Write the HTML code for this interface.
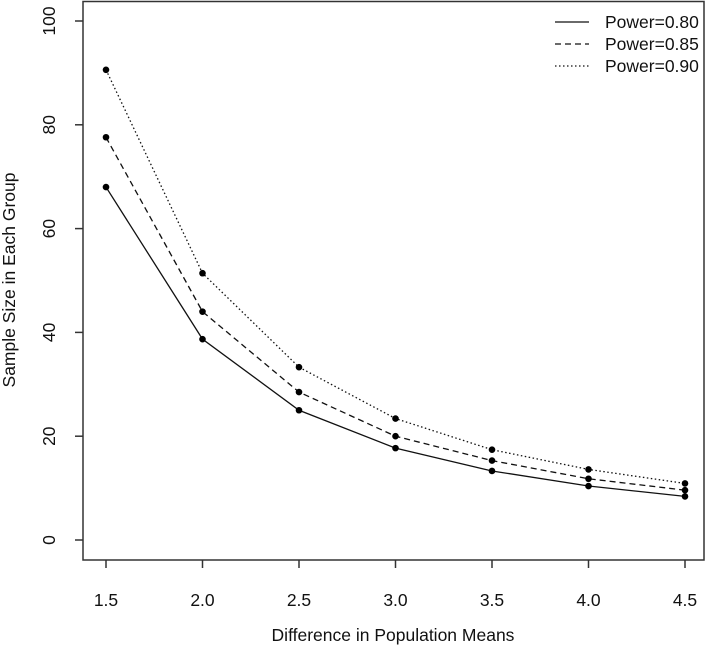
<!DOCTYPE html>
<html><head><meta charset="utf-8"><style>
html,body{margin:0;padding:0;background:#fff;}
svg{display:block;font-family:"Liberation Sans",sans-serif;}
</style></head><body>
<svg id="chart" width="709" height="648"></svg>
<script>
const xCats=[1.5,2.0,2.5,3.0,3.5,4.0,4.5];
const xTickLabels=["1.5","2.0","2.5","3.0","3.5","4.0","4.5"];
const yTicks=[0,20,40,60,80,100];
const p80=[68.0,38.7,25.0,17.7,13.3,10.4,8.4];
const p85=[77.6,44.0,28.5,20.0,15.3,11.8,9.6];
const p90=[90.6,51.4,33.3,23.4,17.4,13.6,10.9];
const seriesNames=["Power=0.80","Power=0.85","Power=0.90"];

const NS="http://www.w3.org/2000/svg";
const svg=document.getElementById('chart');
const FS=17.5;
function X(v){return 106+(v-1.5)*193;}
function Y(v){return 540-v*5.19;}
function mk(t,a,parent){const e=document.createElementNS(NS,t);for(const k in a)e.setAttribute(k,a[k]);(parent||svg).appendChild(e);return e;}

const box=mk('rect',{x:83,y:1.5,width:621,height:558.5,fill:'none',stroke:'#333','stroke-width':1.5});



xCats.forEach((c,i)=>{
  const t=mk('line',{x1:X(c),x2:X(c),y1:560,y2:568,stroke:'#333','stroke-width':1.5});
  
  
  const l=mk('text',{x:X(c),y:606,'text-anchor':'middle','font-size':FS,fill:'#111'});
  l.textContent=xTickLabels[i];
  
  
});
yTicks.forEach(v=>{
  const t=mk('line',{x1:75,x2:83,y1:Y(v),y2:Y(v),stroke:'#333','stroke-width':1.5});
  
  
  const l=mk('text',{x:0,y:0,'text-anchor':'middle','font-size':FS,fill:'#111',transform:`translate(55,${Y(v)}) rotate(-90)`});
  l.textContent=String(v);
  
  
});
const xt=mk('text',{x:393,y:641,'text-anchor':'middle','font-size':FS,fill:'#111'});
xt.textContent='Difference in Population Means';


const yt=mk('text',{x:0,y:0,'text-anchor':'middle','font-size':FS,fill:'#111',transform:'translate(15,280) rotate(-90)'});
yt.textContent='Sample Size in Each Group';



const series=[p80,p85,p90];
const dashes=['none','6,4','1.5,2.5'];
const snames=['series-power-080','series-power-085','series-power-090'];
series.forEach((s,si)=>{
  const pts=s.map((v,i)=>X(xCats[i])+','+Y(v)).join(' ');
  const pl=mk('polyline',{points:pts,fill:'none',stroke:'#111','stroke-width':1.3,'stroke-dasharray':dashes[si]});
  
  
  s.forEach((v,i)=>{
    const c=mk('circle',{cx:X(xCats[i]),cy:Y(v),r:3.3,fill:'#000'});
    
    
  });
});

seriesNames.forEach((n,i)=>{
  const y=22+i*22;
  const g=mk('g',{});
  
  
  mk('line',{x1:555,x2:589,y1:y,y2:y,stroke:'#111','stroke-width':1.3,'stroke-dasharray':dashes[i]},g);
  const t=mk('text',{x:605,y:y+6,'font-size':FS,fill:'#111'},g);
  t.textContent=n;
});
</script>
</body></html>
